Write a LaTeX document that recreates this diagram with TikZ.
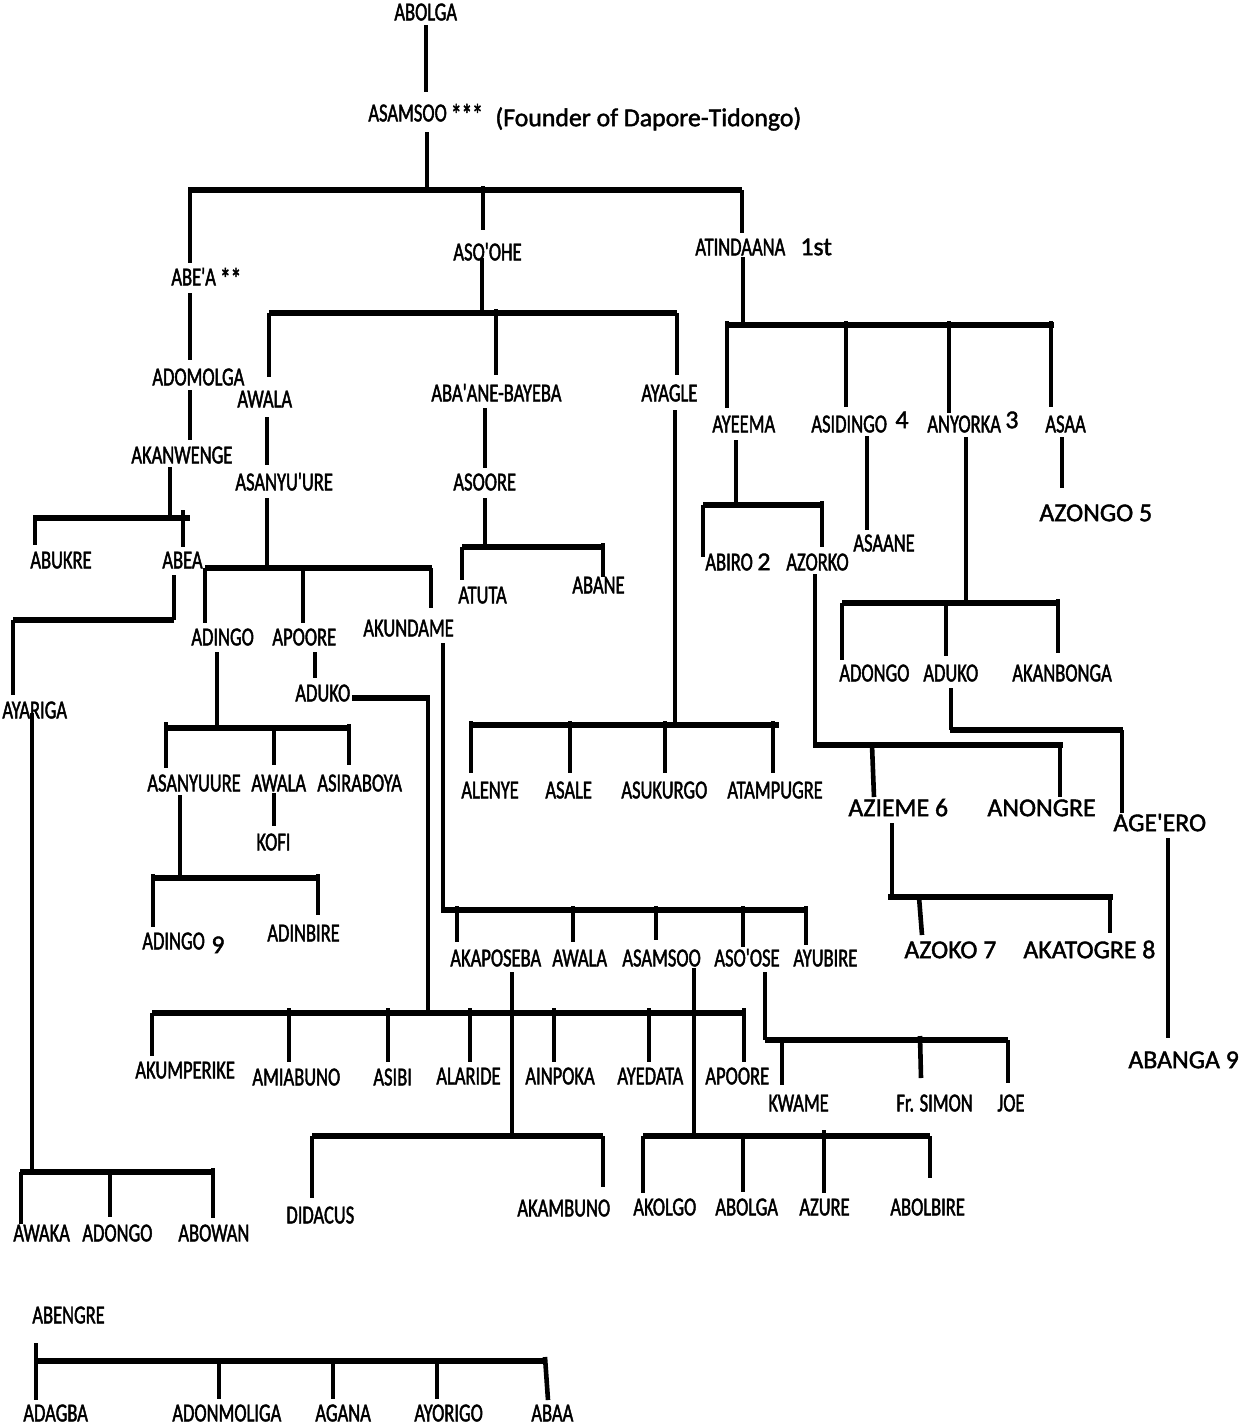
\documentclass[tikz,border=0pt]{standalone}
\usepackage{fontspec}
\newfontfamily\condfont[FakeStretch=0.71,FakeBold=1.6]{Carlito}
\newfontfamily\bigfont[FakeBold=1.6]{Carlito}
\newcommand\lab[4]{\node[lbl] (#1) at (#2,#3+8.4) {#4};}
\newcommand\blab[4]{\node[blbl] (#1) at (#2,#3+8.2) {#4};}
\begin{document}
\begin{tikzpicture}[x=0.5pt,y=-0.5pt,
  lbl/.style={font=\condfont\fontsize{13}{15}\selectfont, inner sep=0pt, anchor=base west},
  blbl/.style={font=\bigfont\fontsize{12.9}{15}\selectfont, inner sep=0pt, anchor=base west},
  vl/.style={line width=2.3pt},
  hb/.style={line width=3pt}]
\useasboundingbox (0,0) rectangle (1240,1425);

% ---------- labels ----------
\lab{abolga}{394}{12}{ABOLGA}
\lab{asamsoo}{368}{113}{ASAMSOO \raisebox{-0.3ex}{\fontsize{15}{15}\selectfont***}}
\blab{founder}{495}{118}{(Founder of Dapore-Tidongo)}
\lab{abea1}{171}{277}{ABE'A \raisebox{-0.3ex}{\fontsize{15}{15}\selectfont**}}
\lab{asoohe}{453}{252}{ASO'OHE}
\lab{atindaana}{695}{247}{ATINDAANA}
\blab{first}{800}{247}{1st}
\lab{awala1}{237}{399}{AWALA}
\lab{abaane}{431}{393}{ABA'ANE-BAYEBA}
\lab{ayagle}{641}{393}{AYAGLE}
\lab{adomolga}{152}{377}{ADOMOLGA}
\lab{akanwenge}{131}{455}{AKANWENGE}
\lab{asanyuure1}{235}{482}{ASANYU'URE}
\lab{asoore}{453}{482}{ASOORE}
\lab{ayeema}{712}{424}{AYEEMA}
\lab{asidingo}{811}{424}{ASIDINGO}
\blab{four}{895}{420}{4}
\lab{anyorka}{927}{424}{ANYORKA}
\blab{three}{1005}{420}{3}
\lab{asaa}{1045}{424}{ASAA}
\blab{azongo}{1039}{513}{AZONGO 5}
\lab{abiro}{705}{562}{ABIRO}
\blab{two}{757}{562}{2}
\lab{azorko}{786}{562}{AZORKO}
\lab{asaane}{853}{543}{ASAANE}
\lab{abukre}{30}{560}{ABUKRE}
\lab{abea2}{162}{560}{ABEA}
\lab{atuta}{458}{595}{ATUTA}
\lab{abane}{572}{585}{ABANE}
\lab{adingo1}{191}{637}{ADINGO}
\lab{apoore1}{272}{637}{APOORE}
\lab{akundame}{363}{628}{AKUNDAME}
\lab{aduko1}{295}{693}{ADUKO}
\lab{adongo1}{839}{673}{ADONGO}
\lab{aduko2}{923}{673}{ADUKO}
\lab{akanbonga}{1012}{673}{AKANBONGA}
\lab{ayariga}{2}{710}{AYARIGA}
\lab{alenye}{461}{790}{ALENYE}
\lab{asale}{545}{790}{ASALE}
\lab{asukurgo}{621}{790}{ASUKURGO}
\lab{atampugre}{727}{790}{ATAMPUGRE}
\lab{asanyuure2}{147}{783}{ASANYUURE}
\lab{awala2}{251}{783}{AWALA}
\lab{asiraboya}{317}{783}{ASIRABOYA}
\lab{kofi}{256}{842}{KOFI}
\blab{azieme}{848}{808}{AZIEME 6}
\blab{anongre}{987}{808}{ANONGRE}
\blab{ageero}{1113}{823}{AGE'ERO}
\lab{adingo2}{142}{941}{ADINGO}
\blab{nine}{211}{945}{9}
\lab{adinbire}{267}{933}{ADINBIRE}
\blab{azoko}{904}{950}{AZOKO 7}
\blab{akatogre}{1023}{950}{AKATOGRE 8}
\lab{akaposeba}{450}{958}{AKAPOSEBA}
\lab{awala3}{552}{958}{AWALA}
\lab{asamsoo2}{622}{958}{ASAMSOO}
\lab{asoose}{714}{958}{ASO'OSE}
\lab{ayubire}{793}{958}{AYUBIRE}
\blab{abanga}{1128}{1060}{ABANGA 9}
\lab{akumperike}{135}{1070}{AKUMPERIKE}
\lab{amiabuno}{252}{1077}{AMIABUNO}
\lab{asibi}{373}{1077}{ASIBI}
\lab{alaride}{436}{1076}{ALARIDE}
\lab{ainpoka}{525}{1076}{AINPOKA}
\lab{ayedata}{617}{1076}{AYEDATA}
\lab{apoore2}{705}{1076}{APOORE}
\lab{kwame}{768}{1103}{KWAME}
\lab{frsimon}{896}{1103}{Fr. SIMON}
\lab{joe}{997}{1103}{JOE}
\lab{didacus}{286}{1215}{DIDACUS}
\lab{akambuno}{517}{1208}{AKAMBUNO}
\lab{akolgo}{633}{1207}{AKOLGO}
\lab{abolga2}{715}{1207}{ABOLGA}
\lab{azure}{799}{1207}{AZURE}
\lab{abolbire}{890}{1207}{ABOLBIRE}
\lab{awaka}{13}{1233}{AWAKA}
\lab{adongo2}{82}{1233}{ADONGO}
\lab{abowan}{178}{1233}{ABOWAN}
\lab{abengre}{32}{1315}{ABENGRE}
\lab{adagba}{23}{1413}{ADAGBA}
\lab{adonmoliga}{172}{1413}{ADONMOLIGA}
\lab{agana}{315}{1413}{AGANA}
\lab{ayorigo}{414}{1413}{AYORIGO}
\lab{abaa}{531}{1413}{ABAA}

% ---------- lines ----------
% top
\draw[vl] (426,25) -- (426,92);
\draw[vl] (427,132) -- (427,190);
\draw[hb] (188,190) -- (742,190);
\draw[vl] (190,190) -- (190,263);
\draw[vl] (190,293) -- (190,360);
\draw[vl] (190,390) -- (190,440);
\draw[vl] (483,186) -- (483,230);
\draw[vl] (742,190) -- (742,233);
\draw[vl] (482,258) -- (482,313);
\draw[vl] (743,257) -- (743,325);

% ASO'OHE
\draw[hb] (269,313) -- (677,313);
\draw[vl] (269,313) -- (269,377);
\draw[vl] (496,309) -- (496,375);
\draw[vl] (677,313) -- (677,375);
\draw[vl] (267,417) -- (267,465);
\draw[vl] (485,408) -- (485,468);
\draw[vl] (485,498) -- (485,547);
\draw[hb] (462,547) -- (605,547);
\draw[vl] (462,547) -- (462,580);
\draw[vl] (603,543) -- (603,577);
\draw[vl] (675,410) -- (675,725);
\draw[hb] (471,725) -- (779,725);
\foreach \xx in {471,570,665,773} \draw[vl] (\xx,721) -- (\xx,773);

% ATINDAANA
\draw[hb] (727,325) -- (1054,325);
\foreach \xx/\yy in {727/408,846/407,949/413,1051/407} \draw[vl] (\xx,321) -- (\xx,\yy);
\draw[vl] (736,440) -- (736,505);
\draw[hb] (703,505) -- (822,505);
\draw[vl] (703,505) -- (703,557);
\draw[vl] (822,501) -- (822,547);
\draw[vl] (867,436) -- (867,530);
\draw[vl] (966,437) -- (966,603);
\draw[hb] (842,603) -- (1058,603);
\draw[vl] (842,603) -- (842,660);
\draw[vl] (946,603) -- (946,656);
\draw[vl] (1058,599) -- (1058,653);
\draw[vl] (1062,437) -- (1062,488);
% AZORKO line
\draw[vl] (815,574) -- (815,745);
\draw[hb] (813,745) -- (1063,745);
\draw[vl] (872,745) -- (874,797);
\draw[vl] (1060,745) -- (1060,797);
% ADUKO (right) line
\draw[vl] (951,688) -- (951,730);
\draw[hb] (950,730) -- (1123,730);
\draw[vl] (1122,730) -- (1122,813);
\draw[vl] (1168,838) -- (1168,1038);
% AZIEME line
\draw[vl] (892,823) -- (892,897);
\draw[hb] (888,897) -- (1113,897);
\draw[vl] (919,897) -- (922,935);
\draw[vl] (1110,897) -- (1110,933);

% left side
\draw[vl] (170,467) -- (170,518);
\draw[hb] (33,518) -- (190,518);
\draw[vl] (35,518) -- (35,545);
\draw[vl] (183,510) -- (183,547);
\draw[vl] (174,575) -- (174,620);
\draw[hb] (174,620) -- (13,620);
\draw[vl] (13,620) -- (13,695);
\draw[vl] (32,713) -- (32,1172);
\draw[hb] (20,1172) -- (215,1172);
\draw[vl] (21,1172) -- (21,1224);
\draw[vl] (110,1172) -- (110,1217);
\draw[vl] (213,1168) -- (213,1218);
% ABENGRE
\draw[vl] (36,1343) -- (36,1400);
\draw[hb] (36,1361) -- (545,1361);
\foreach \xx in {219,333,437} \draw[vl] (\xx,1361) -- (\xx,1399);
\draw[vl] (545,1357) -- (548,1400);

% middle
\draw[vl] (267,498) -- (267,568);
\draw[hb] (205,568) -- (432,568);
\draw[vl] (205,568) -- (205,623);
\draw[vl] (303,568) -- (303,623);
\draw[vl] (431,568) -- (431,608);
\draw[vl] (315,652) -- (315,678);
\draw[hb] (352,698) -- (430,698);
\draw[vl] (428,698) -- (428,1013);
% ADINGO
\draw[vl] (217,652) -- (217,728);
\draw[hb] (166,728) -- (349,728);
\draw[vl] (166,722) -- (166,768);
\draw[vl] (274,728) -- (274,765);
\draw[vl] (349,724) -- (349,765);
\draw[vl] (274,793) -- (274,826);
\draw[vl] (180,795) -- (180,878);
\draw[hb] (153,878) -- (318,878);
\draw[vl] (153,874) -- (153,927);
\draw[vl] (318,874) -- (318,915);
% AKUNDAME
\draw[vl] (443,643) -- (443,910);
\draw[hb] (441,910) -- (806,910);
\foreach \xx/\yy in {457/942,573/942,656/940,743/947,806/945} \draw[vl] (\xx,906) -- (\xx,\yy);
% bottom bar
\draw[hb] (152,1013) -- (744,1013);
\draw[vl] (152,1013) -- (152,1056);
\foreach \xx in {289,388,470,554,649,744} \draw[vl] (\xx,1008) -- (\xx,1062);
% AKAPOSEBA
\draw[vl] (512,972) -- (512,1136);
\draw[hb] (312,1136) -- (603,1136);
\draw[vl] (312,1136) -- (312,1198);
\draw[vl] (603,1136) -- (603,1187);
% ASAMSOO
\draw[vl] (694,968) -- (694,1136);
\draw[hb] (643,1136) -- (930,1136);
\draw[vl] (643,1136) -- (643,1193);
\draw[vl] (743,1136) -- (743,1192);
\draw[vl] (824,1130) -- (824,1193);
\draw[vl] (930,1136) -- (930,1178);
% ASO'OSE
\draw[vl] (765,972) -- (765,1040);
\draw[hb] (765,1040) -- (1008,1040);
\draw[vl] (782,1040) -- (782,1085);
\draw[vl] (920,1036) -- (921,1078);
\draw[vl] (1008,1040) -- (1008,1083);
\end{tikzpicture}
\end{document}
